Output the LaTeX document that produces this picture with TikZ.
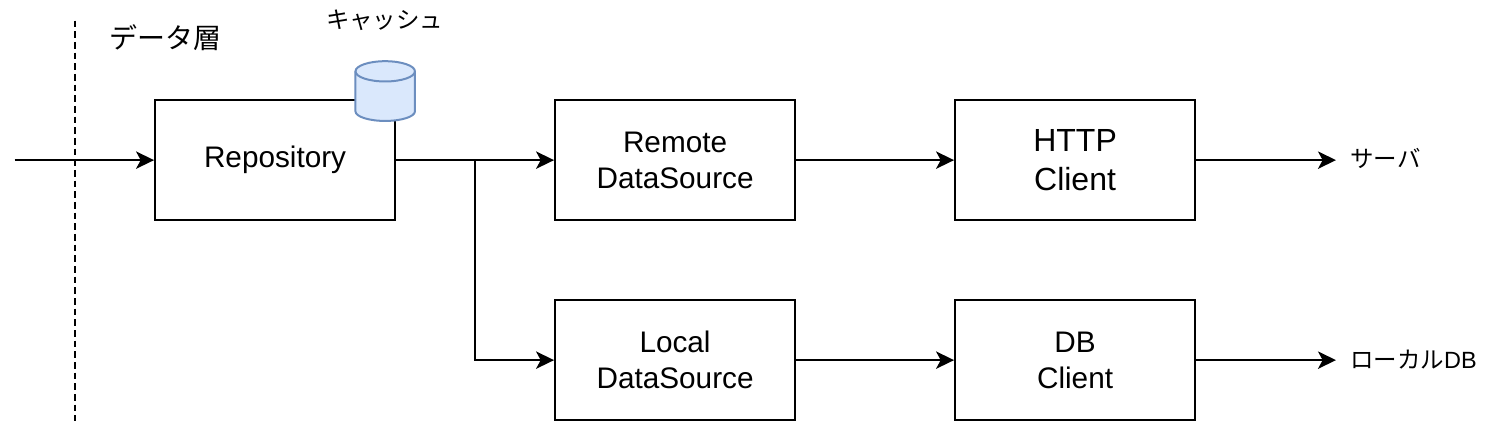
\documentclass[tikz,border=0pt]{standalone}
\usepackage{fontspec}
\setmainfont{Liberation Sans}
\newfontfamily\cjk{Noto Sans CJK JP}
\usepackage{tikz}
\usetikzlibrary{arrows.meta}
\definecolor{drumfill}{HTML}{DAE8FC}
\definecolor{drumline}{HTML}{6C8EBF}
\begin{document}
\begin{tikzpicture}[x=1pt,y=-1pt,
  block/.style={rectangle,draw,line width=1.5pt,minimum width=180pt,minimum height=90pt,inner sep=0pt,align=center,font=\fontsize{22.3}{27}\selectfont},
  tag/.style={inner sep=0pt,anchor=west,font=\fontsize{17.6}{21}\selectfont\cjk},
  flow/.style={-{Stealth[length=13.5pt,width=13pt,inset=3.5pt]},line width=1.5pt}]
  \useasboundingbox (0,0) rectangle (1122,318);
  % layer boundary and its title
  \coordinate (top) at (56.2,15.5);
  \coordinate (bottom) at (56.2,316);
  \draw[line width=1.5pt,dash pattern=on 5pt off 3pt] (top)--(bottom);
  \node[tag,font=\fontsize{21}{25}\selectfont\cjk] (layer) at (82,28) {データ層};
  \coordinate (entry) at (11,120.1);
  % the two rows of blocks
  \node[block] (repository) at (206.3,120.1) {Repository};
  \node[block] (remote) at (506.3,120.1) {Remote\\DataSource};
  \node[block,font=\fontsize{24}{29}\selectfont] (http) at (806.3,120.1) {HTTP\\Client};
  \node[block] (local) at (506.3,270.1) {Local\\DataSource};
  \node[block] (dbclient) at (806.3,270.1) {DB\\Client};
  % cache drum on the corner
  \draw[drumline,fill=drumfill,line width=1.5pt] (266.6,53.5) arc[start angle=180,end angle=0,x radius=22.3pt,y radius=7.6pt]
    -- (311.2,83.5) arc[start angle=0,end angle=-180,x radius=22.3pt,y radius=7.2pt] -- cycle;
  \draw[drumline,line width=1.5pt] (266.6,53.5) arc[start angle=180,end angle=360,x radius=22.3pt,y radius=7.6pt];
  \node[tag,anchor=center] (cachelabel) at (288.5,15) {キャッシュ};
  \node[tag] (server) at (1012.5,119) {サーバ};
  \node[tag] (localdb) at (1012.5,270) {ローカル{\rmfamily DB}};
  \coordinate (serverend) at (1002,120.1);
  \coordinate (localdbend) at (1002,270.1);
  \draw[flow] (entry)--(repository);
  \draw[flow] (repository)--(remote);
  \draw[flow] (repository.east) -| (356.3,270.1) -- (local.west);
  \draw[flow] (remote)--(http);
  \draw[flow] (local)--(dbclient);
  \draw[flow] (http.east)--(serverend);
  \draw[flow] (dbclient.east)--(localdbend);
\end{tikzpicture}
\end{document}
